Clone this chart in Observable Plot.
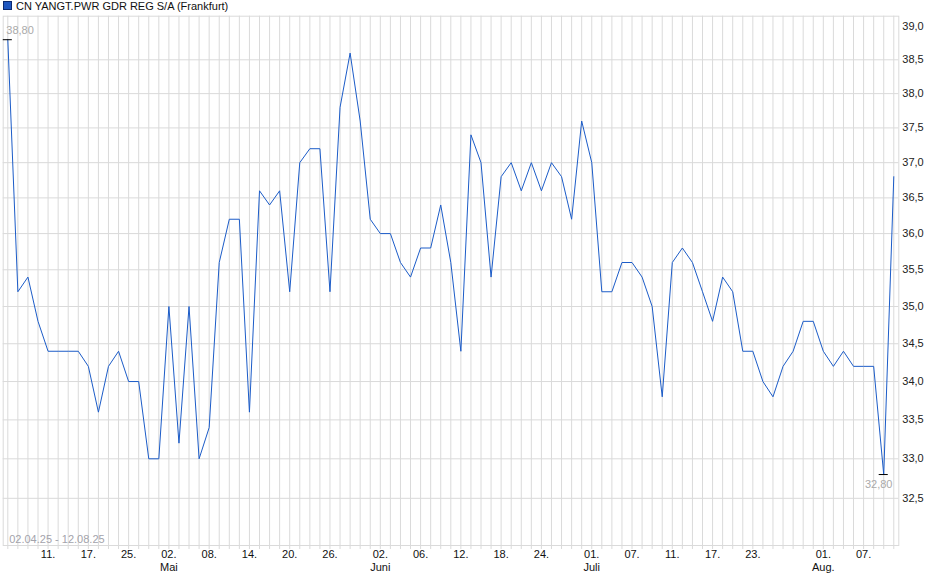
<!DOCTYPE html>
<html>
<head>
<meta charset="utf-8">
<script src="https://cdn.jsdelivr.net/npm/d3@7"></script>
<script src="https://cdn.jsdelivr.net/npm/@observablehq/plot@0.6"></script>
<style>
  html, body { margin: 0; padding: 0; background: #fff; }
  #wrap { position: relative; width: 940px; height: 579px; font-family: "Liberation Sans", Arial, sans-serif; }
  #title { position: absolute; left: 3px; top: 0px; font-size: 11px; line-height: 13px; color: #111; white-space: nowrap; z-index: 2; }
  #title .sq { display: inline-block; width: 7px; height: 7px; background: #1f57c0; border: 1px solid #0c2a70; margin-right: 4px; vertical-align: -0px; }
</style>
</head>
<body>
<div id="wrap">
  <div id="title"><span class="sq"></span>CN YANGT.PWR GDR REG S/A (Frankfurt)</div>
  <div id="chart"></div>
</div>
<script>
// Closing prices, one per trading day (02.04.25 - 12.08.25)
const values = [
  38.8, 35.2, 35.4, 34.8, 34.4, 34.4, 34.4, 34.4, 34.2, 33.6,
  34.2, 34.4, 34.0, 34.0, 33.0, 33.0, 35.0, 33.2, 35.0, 33.0,
  33.4, 35.6, 36.2, 36.2, 33.6, 36.6, 36.4, 36.6, 35.2, 37.0,
  37.2, 37.2, 35.2, 37.8, 38.6, 37.6, 36.2, 36.0, 36.0, 35.6,
  35.4, 35.8, 35.8, 36.4, 35.6, 34.4, 37.4, 37.0, 35.4, 36.8,
  37.0, 36.6, 37.0, 36.6, 37.0, 36.8, 36.2, 37.6, 37.0, 35.2,
  35.2, 35.6, 35.6, 35.4, 35.0, 33.8, 35.6, 35.8, 35.6, 35.2,
  34.8, 35.4, 35.2, 34.4, 34.4, 34.0, 33.8, 34.2, 34.4, 34.8,
  34.8, 34.4, 34.2, 34.4, 34.2, 34.2, 34.2, 32.8, 36.8
];
// x-axis tick positions (trading-day index) and labels
const tickIndex  = [4, 8, 12, 16, 20, 24, 28, 32, 37, 41, 45, 49, 53, 58, 62, 66, 70, 74, 81, 85];
const tickDays   = ["11.", "17.", "25.", "02.", "08.", "14.", "20.", "26.", "02.", "06.", "12.", "18.", "24.", "01.", "07.", "11.", "17.", "23.", "01.", "07."];
const monthIndex = [16, 37, 58, 81];
const monthNames = ["Mai", "Juni", "Juli", "Aug."];
const yTicks     = [32.5, 33.0, 33.5, 34.0, 34.5, 35.0, 35.5, 36.0, 36.5, 37.0, 37.5, 38.0, 38.5, 39.0];
const yGrid      = [32.5, 33.0, 33.5, 34.0, 34.5, 35.0, 35.5, 36.0, 36.5, 37.0, 37.5, 38.0, 38.5];
const rangeLabel = "02.04.25 - 12.08.25";

const days = d3.range(values.length);
const hiIdx = d3.maxIndex(values);
const loIdx = d3.minIndex(values);
const fmt2 = v => v.toFixed(2).replace(".", ",");
const fmt1 = v => v.toFixed(1).replace(".", ",");
const grid = "#dadada";

const chart = Plot.plot({
  width: 940,
  height: 579,
  marginTop: 15.7,
  marginBottom: 34,
  marginLeft: 2.7,
  marginRight: 41.7,
  x: { domain: [-0.457, 88.497], axis: null },
  y: { type: "log", domain: [31.913, 39.154], axis: null },
  style: { fontFamily: "Liberation Sans, Arial, sans-serif", fontSize: "11px", background: "white", overflow: "visible" },
  marks: [
    Plot.ruleY(yGrid, { y: d => d, stroke: grid, strokeWidth: 1 }),
    Plot.ruleX(days, { x: d => d, stroke: grid, strokeWidth: 1, insetBottom: -4 }),
    Plot.frame({ stroke: grid, strokeWidth: 1 }),
    Plot.text([rangeLabel], { text: d => d, frameAnchor: "bottom-left", dx: 6, dy: -6, textAnchor: "start", lineAnchor: "middle", fill: "#a3a3ab", fontSize: 11 }),
    Plot.lineY(values, { x: (d, i) => i, y: d => d, stroke: "#1c5cc8", strokeWidth: 1 }),
    Plot.ruleY([values[hiIdx]], { y: d => d, x1: hiIdx - 0.45, x2: hiIdx + 0.45, stroke: "#000", strokeWidth: 1 }),
    Plot.ruleY([values[loIdx]], { y: d => d, x1: loIdx - 0.45, x2: loIdx + 0.45, stroke: "#000", strokeWidth: 1 }),
    Plot.text([values[hiIdx]], { x: hiIdx, y: d => d, text: d => fmt2(d), dx: -1.5, dy: -9, textAnchor: "start", fill: "#aaaaaa", fontSize: 11 }),
    Plot.text([values[loIdx]], { x: loIdx, y: d => d, text: d => fmt2(d), dx: -5, dy: 10, textAnchor: "middle", fill: "#aaaaaa", fontSize: 11 }),
    Plot.axisY(yTicks, { anchor: "right", tickSize: 0, tickPadding: 3.5, tickFormat: fmt1, fill: "#222", fontSize: 11, label: null }),
    Plot.text(tickIndex, { x: d => d, text: (d, i) => tickDays[i], frameAnchor: "bottom", dy: 8.5, lineAnchor: "middle", fill: "#111", fontSize: 11 }),
    Plot.text(monthIndex, { x: d => d, text: (d, i) => monthNames[i], frameAnchor: "bottom", dy: 21.5, lineAnchor: "middle", fill: "#111", fontSize: 11 })
  ]
});
document.getElementById("chart").appendChild(chart);
</script>
</body>
</html>
